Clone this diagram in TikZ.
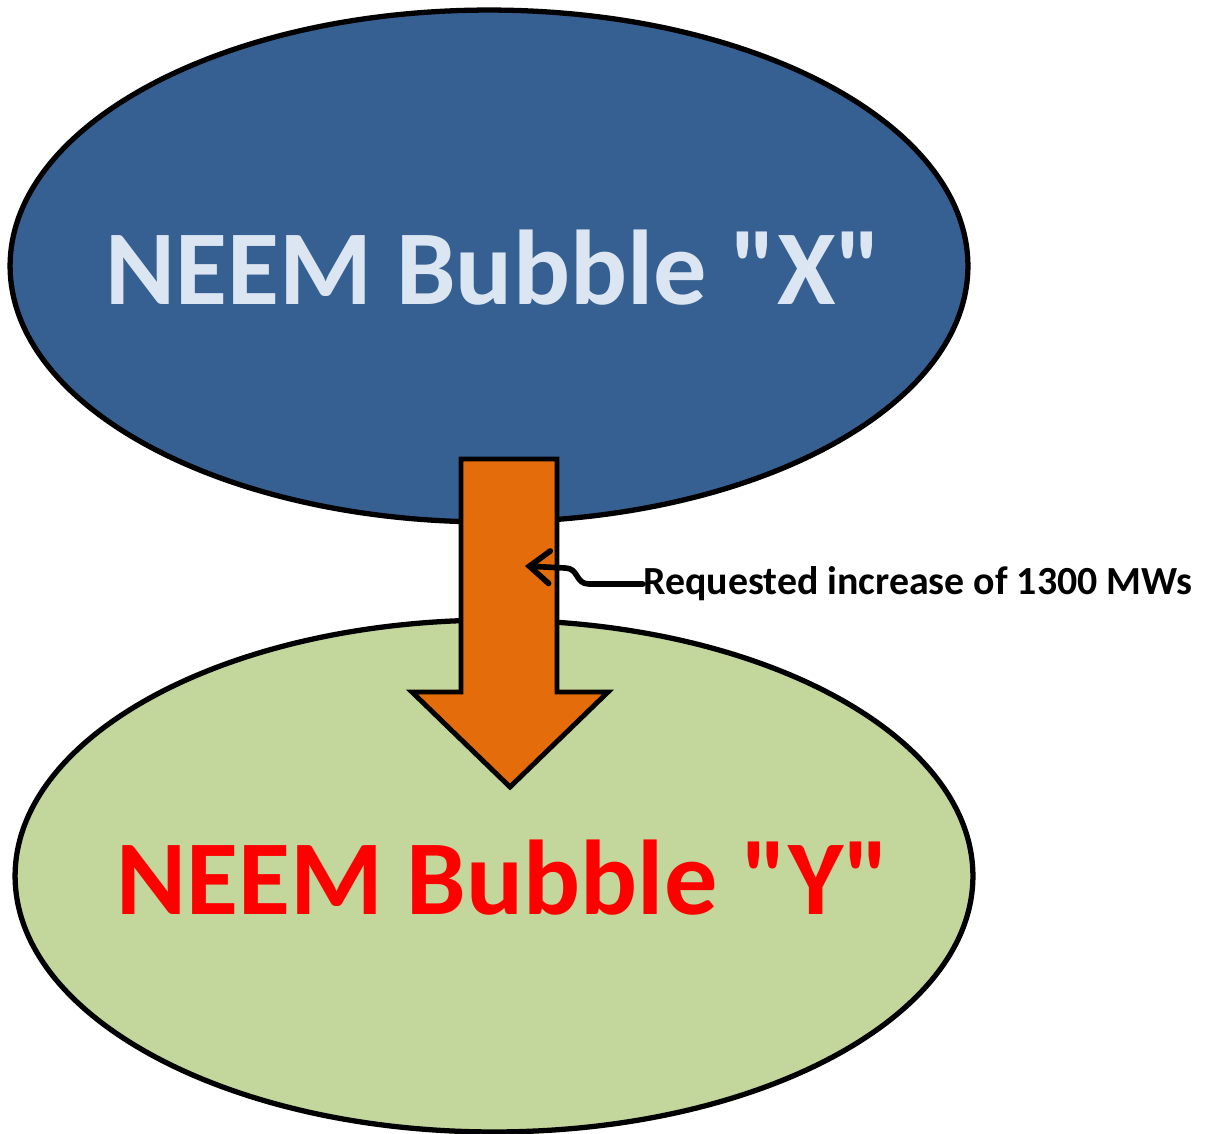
\documentclass[tikz,border=0pt]{standalone}
\usepackage{fontspec}
\setmainfont{Carlito}
\usetikzlibrary{arrows.meta,positioning,calc,shapes.geometric}
\definecolor{bubbleBlue}{RGB}{55,96,146}
\definecolor{bubbleGreen}{RGB}{195,214,155}
\definecolor{flowOrange}{RGB}{228,108,10}
\definecolor{textPale}{RGB}{220,230,242}
\tikzset{neempanel/.style={
  font=\bfseries,
  bubble/.style={ellipse, draw=black, line width=3pt, minimum width=19.16cm, minimum height=10.24cm, inner sep=0pt},
  title/.style={inner sep=0pt, font=\fontsize{60.5}{60.5}\selectfont\bfseries},
  bigflow/.style={fill=flowOrange, draw=black, line width=2.8pt, line join=miter},
  callout/.style={-{Straight Barb[length=4mm, width=6.5mm, line cap=round]}, line width=3.2pt, line cap=round},
  note/.style={anchor=west, inner sep=0pt, font=\fontsize{22.7}{22.7}\selectfont\bfseries},
}}
\begin{document}
\begin{tikzpicture}[neempanel, x=0.02cm, y=-0.02cm]
\useasboundingbox (0,0) rectangle (1212,1133);
% =====================================================================
%  two bubbles, joined by the requested transfer
% =====================================================================
\node[bubble, fill=bubbleBlue] (X) at (489,266) {};
\node[title, text=textPale] (Xt) at (494,268) {NEEM Bubble \textquotedbl X\textquotedbl};
\node[bubble, fill=bubbleGreen] (Y) at (494,876) {};
\node[title, text=red] (Yt) at (503,878) {NEEM Bubble \textquotedbl Y\textquotedbl};

% block arrow from X down into Y
\coordinate (top) at (509,459);
\coordinate (tipY) at (510,787);
\draw[bigflow] ($(top)+(-48,0)$) -- ($(top)+(48,0)$) -- (557,692) -- (608,692)
  -- (tipY) -- (412,692) -- (461,692) -- cycle;

% label and its pointer
\node[note] (lbl) at (643,584) {Requested increase of 1300 MWs};
\coordinate (pt) at (525,566);
\draw[callout] (lbl.west) -- ++(-54,0) .. controls +(-14,0) and +(14,0) .. ++(-24,-16) -- (pt);
\end{tikzpicture}
\end{document}
